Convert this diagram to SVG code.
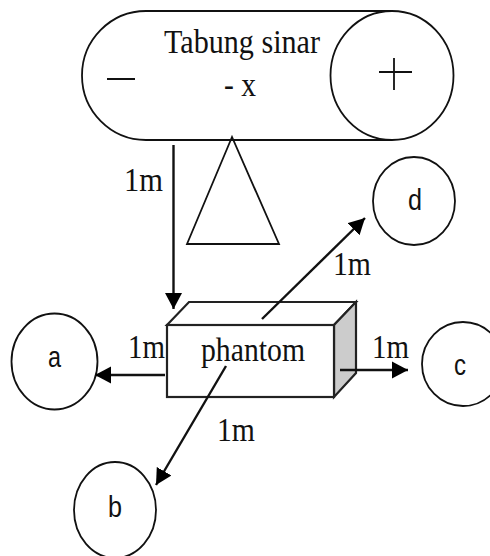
<svg xmlns="http://www.w3.org/2000/svg" width="490" height="556" viewBox="0 0 490 556">
<style>
.s{fill:none;stroke:#111;stroke-width:1.8}
.w{fill:#fff;stroke:#222;stroke-width:2.200}
.c{stroke:#111;stroke-width:2.400;fill:none}
.t{font-family:"Liberation Serif",serif;font-size:33px;fill:#111}
.l{font-family:"Liberation Sans",sans-serif;font-size:30px;fill:#111}
</style>
<defs>
<marker id="ah" markerUnits="userSpaceOnUse" markerWidth="18" markerHeight="18" refX="16" refY="9" orient="auto"><path d="M0 0.500L16 9L0 17.500Z" fill="#000"/></marker>
</defs>
<rect width="490" height="556" fill="#fff"/>
<g id="tube">
<path class="s" d="M392 11H146A64 64.500 0 0 0 146 140H392"/>
<ellipse class="s" cx="392" cy="75.500" rx="61.500" ry="64.500"/>
<path class="s" d="M107 79H135M379 72H412M394 58V90"/>
<text class="t" x="164" y="53" textLength="156" lengthAdjust="spacingAndGlyphs">Tabung sinar</text>
<text class="t" x="224" y="96" textLength="32" lengthAdjust="spacingAndGlyphs">- x</text>
</g>
<g id="cone"><path class="s" d="M232 137L187 244H279Z"/></g>
<g id="phantom">
<path class="w" d="M167 325L189 302H356L334 325Z"/>
<path d="M334 325L356 302V373L334 397Z" fill="#ccc" stroke="#222" stroke-width="2.200"/>
<rect class="w" x="167" y="325" width="167" height="72"/>
<text class="t" x="201" y="361" textLength="104" lengthAdjust="spacingAndGlyphs">phantom</text>
</g>
<g id="a"><ellipse class="s" cx="54.500" cy="361.500" rx="43" ry="48"/><text class="l" x="48" y="367" textLength="13" lengthAdjust="spacingAndGlyphs">a</text></g>
<g id="b"><ellipse class="s" cx="115" cy="510" rx="41" ry="48"/><text class="l" x="108" y="517" textLength="14" lengthAdjust="spacingAndGlyphs">b</text></g>
<g id="c"><ellipse class="s" cx="463" cy="364" rx="41" ry="42"/><text class="l" x="454" y="375" textLength="12" lengthAdjust="spacingAndGlyphs">c</text></g>
<g id="d"><ellipse class="s" cx="414" cy="201" rx="41" ry="44"/><text class="l" x="408" y="210" textLength="14" lengthAdjust="spacingAndGlyphs">d</text></g>
<g id="connectors">
<path class="c" d="M173.500 145V309" marker-end="url(#ah)"/>
<path class="c" d="M165 375H95" marker-end="url(#ah)"/>
<path class="c" d="M340 370H408" marker-end="url(#ah)"/>
<path class="c" d="M226 366L156 485" marker-end="url(#ah)"/>
<path class="c" d="M262 319L365 218" marker-end="url(#ah)"/>
</g>
<g id="labels">
<text class="t" x="124" y="191" textLength="39" lengthAdjust="spacingAndGlyphs">1m</text>
<text class="t" x="333" y="275" textLength="38" lengthAdjust="spacingAndGlyphs">1m</text>
<text class="t" x="128" y="358" textLength="37" lengthAdjust="spacingAndGlyphs">1m</text>
<text class="t" x="372" y="358" textLength="37" lengthAdjust="spacingAndGlyphs">1m</text>
<text class="t" x="217" y="441" textLength="38" lengthAdjust="spacingAndGlyphs">1m</text>
</g>
</svg>
